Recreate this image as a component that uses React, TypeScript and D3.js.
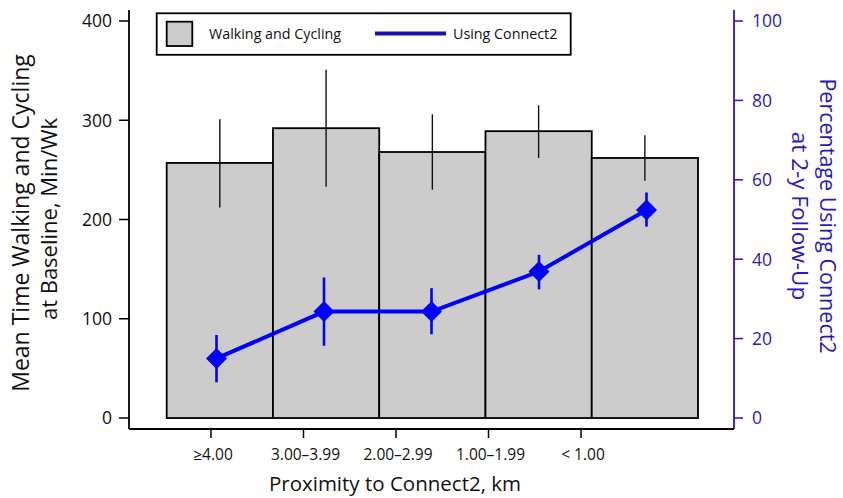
import React from "react";
import * as d3 from "d3";

const categories = ["≥4.00", "3.00–3.99", "2.00–2.99", "1.00–1.99", "< 1.00"];
const walkMean = [257, 292, 268, 289, 262];
const walkLow = [212, 233, 230, 262, 239];
const walkHigh = [301, 351, 306, 315, 285];
const usePct = [15.0, 26.8, 26.8, 36.9, 52.4];
const useLow = [9.0, 18.2, 21.1, 32.4, 48.2];
const useHigh = [20.9, 35.4, 32.7, 41.1, 56.8];
const leftTicks = [0, 100, 200, 300, 400];
const rightTicks = [0, 20, 40, 60, 80, 100];

const W = 843;
const H = 498;
const FONT = "'Open Sans', 'Noto Sans', sans-serif";
const BLUE = "#0000FF";
const AXBLUE = "#2A17C6";

export default function App() {
  const yL = d3.scaleLinear().domain([0, 400]).range([418, 21]);
  const yR = d3.scaleLinear().domain([0, 100]).range([418, 21]);
  const xB = d3.scaleBand<string>().domain(categories).range([166.7, 698]).padding(0);
  const xT = d3.scalePoint<string>().domain(categories).range([211, 581]);
  const xP = d3.scalePoint<string>().domain(categories).range([216.5, 646.5]);
  const cx = (c: string) => (xB(c) as number) + xB.bandwidth() / 2;

  const line = d3
    .line<number>()
    .x((_, i) => xP(categories[i]) as number)
    .y((d) => yR(d));

  const diamond = d3.symbol().type(d3.symbolSquare).size(220)();

  const axisX0 = 129;
  const axisX1 = 734;
  const axisY = 429;

  return (
    <svg
      width={W}
      height={H}
      style={{ position: "fixed", left: 0, top: 0, background: "#fff" }}
      fontFamily={FONT}
    >
      {/* bars */}
      {categories.map((c, i) => (
        <rect
          key={c}
          x={xB(c)}
          y={yL(walkMean[i])}
          width={xB.bandwidth()}
          height={yL(0) - yL(walkMean[i])}
          fill="#CCCCCC"
          stroke="#000"
          strokeWidth={1.8}
        />
      ))}
      {/* bar error bars */}
      {categories.map((c, i) => (
        <line
          key={"e" + c}
          x1={cx(c)}
          x2={cx(c)}
          y1={yL(walkLow[i])}
          y2={yL(walkHigh[i])}
          stroke="#111"
          strokeWidth={1.4}
        />
      ))}
      {/* line error bars */}
      {categories.map((c, i) => (
        <line
          key={"le" + c}
          x1={xP(c)}
          x2={xP(c)}
          y1={yR(useLow[i])}
          y2={yR(useHigh[i])}
          stroke={BLUE}
          strokeWidth={2.6}
        />
      ))}
      <path d={line(usePct) as string} fill="none" stroke={BLUE} strokeWidth={4} />
      {categories.map((c, i) => (
        <path
          key={"d" + c}
          d={diamond as string}
          transform={`translate(${xP(c)},${yR(usePct[i])}) rotate(45)`}
          fill={BLUE}
        />
      ))}

      {/* left axis */}
      <line x1={axisX0} x2={axisX0} y1={10} y2={axisY} stroke="#000" strokeWidth={1.8} />
      {leftTicks.map((t) => (
        <g key={"lt" + t}>
          <line x1={axisX0 - 10} x2={axisX0} y1={yL(t)} y2={yL(t)} stroke="#000" strokeWidth={1.5} />
          <text x={axisX0 - 17} y={yL(t)} dy="0.36em" textAnchor="end" fontSize={17.5} fill="#111">
            {t}
          </text>
        </g>
      ))}
      {/* bottom axis */}
      <line x1={axisX0} x2={axisX1} y1={axisY} y2={axisY} stroke="#000" strokeWidth={1.8} />
      {categories.map((c) => (
        <g key={"xt" + c}>
          <line x1={xT(c)} x2={xT(c)} y1={axisY + 1} y2={axisY + 9} stroke="#000" strokeWidth={1.5} />
          <text x={(xT(c) as number) + 2} y={460} textAnchor="middle" fontSize={15.5} fill="#111">
            {c}
          </text>
        </g>
      ))}
      {/* right axis */}
      <line x1={axisX1} x2={axisX1} y1={10} y2={axisY} stroke={AXBLUE} strokeWidth={1.8} />
      {rightTicks.map((t) => (
        <g key={"rt" + t}>
          <line x1={axisX1} x2={axisX1 + 9} y1={yR(t)} y2={yR(t)} stroke={AXBLUE} strokeWidth={1.5} />
          <text x={axisX1 + 18} y={yR(t)} dy="0.36em" textAnchor="start" fontSize={17.5} fill={AXBLUE}>
            {t}
          </text>
        </g>
      ))}

      {/* axis titles */}
      <g transform="translate(29,223) rotate(-90)">
        <text textAnchor="middle" fontSize={23} fill="#111">
          Mean Time Walking and Cycling
        </text>
      </g>
      <g transform="translate(57,219) rotate(-90)">
        <text textAnchor="middle" fontSize={22} fill="#111">
          at Baseline, Min/Wk
        </text>
      </g>
      <g transform="translate(819.5,216) rotate(90)">
        <text textAnchor="middle" fontSize={21.5} fill={AXBLUE}>
          Percentage Using Connect2
        </text>
      </g>
      <g transform="translate(792,216) rotate(90)">
        <text textAnchor="middle" fontSize={22.5} fill={AXBLUE}>
          at 2-y Follow-Up
        </text>
      </g>
      <text x={395} y={491} textAnchor="middle" fontSize={20.5} fill="#111">
        Proximity to Connect2, km
      </text>

      {/* legend */}
      <rect x={156.7} y={13.3} width={414} height={41.5} fill="#fff" stroke="#000" strokeWidth={1.8} />
      <rect x={166.7} y={21.7} width={25.6} height={24.3} fill="#CCCCCC" stroke="#000" strokeWidth={1.8} />
      <text x={209} y={38.8} fontSize={14.3} fill="#111">
        Walking and Cycling
      </text>
      <line x1={375} x2={446} y1={33.5} y2={33.5} stroke="#1A0FB0" strokeWidth={4} />
      <text x={453} y={38.8} fontSize={14.3} fill="#111">
        Using Connect2
      </text>
    </svg>
  );
}
